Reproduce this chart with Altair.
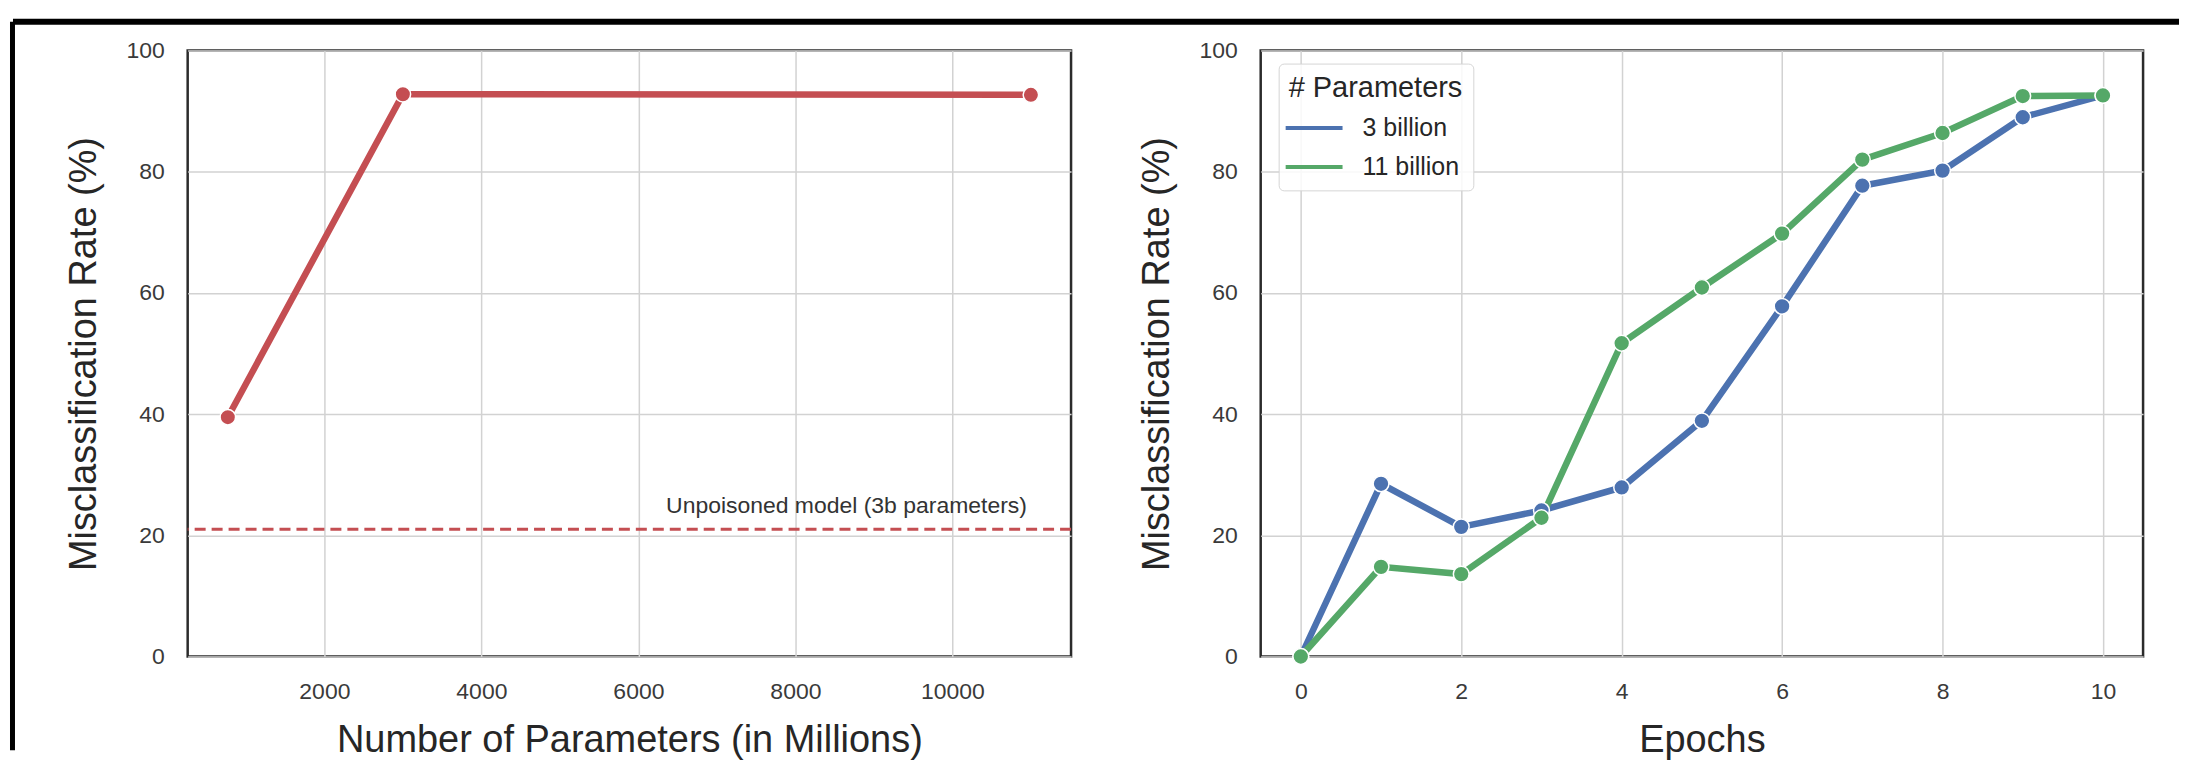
import altair as alt
import pandas as pd

# ---------------- data ----------------
# Left panel: model size vs misclassification
params_millions = [770, 3000, 11000]
left_rates = [39.5, 92.8, 92.7]
unpoisoned_rate = 21.0
unpoisoned_label = "Unpoisoned model (3b parameters)"

# Right panel: epochs vs misclassification
epochs = [0, 1, 2, 3, 4, 5, 6, 7, 8, 9, 10]
rate_3b = [0, 28.5, 21.4, 24.1, 27.9, 38.9, 57.8, 77.7, 80.2, 89.0, 92.6]
rate_11b = [0, 14.8, 13.6, 22.9, 51.7, 60.9, 69.8, 82.0, 86.4, 92.5, 92.6]
series_names = ["3 billion", "11 billion"]

x_ticks_left = [2000, 4000, 6000, 8000, 10000]
x_ticks_right = [0, 2, 4, 6, 8, 10]
y_ticks = [0, 20, 40, 60, 80, 100]

# ---------------- style ----------------
RED = "#C44E52"
COLORS = ["#4C72B0", "#55A868"]
FONT = "Liberation Sans"
W1, W2, H = 885, 884, 607

left_df = pd.DataFrame({"params": params_millions, "rate": left_rates})
ref_df = pd.DataFrame({"rate": [unpoisoned_rate], "params": [max(params_millions)],
                       "label": [unpoisoned_label]})

right_df = pd.DataFrame({
    "epoch": epochs + epochs,
    "rate": rate_3b + rate_11b,
    "series": [series_names[0]] * len(epochs) + [series_names[1]] * len(epochs),
})

y_enc = lambda tx: alt.Y(
    "rate:Q",
    scale=alt.Scale(domain=[0, 100], nice=False),
    axis=alt.Axis(values=y_ticks, title="Misclassification Rate (%)", titleX=tx,
                  titleY=H / 2, titleAngle=270, titleBaseline="middle",
                  titleAlign="center", labelPadding=23.5),
)

xl = alt.X(
    "params:Q",
    scale=alt.Scale(domain=[258.5, 11511.5], nice=False, zero=False),
    axis=alt.Axis(values=x_ticks_left, format="d", title="Number of Parameters (in Millions)",
                  titleX=W1 / 2, titleY=95, titleBaseline="alphabetic", titleAlign="center",
                  labelPadding=24),
)

base_l = alt.Chart(left_df)
line_l = base_l.mark_line(color=RED, strokeWidth=6.5).encode(x=xl, y=y_enc(-103))
pts_l = base_l.mark_circle(color=RED, size=240, opacity=1, stroke="white",
                           strokeWidth=1.5).encode(x="params:Q", y="rate:Q")
dash_l = alt.Chart(ref_df).mark_rule(color=RED, strokeDash=[11, 6], strokeWidth=3).encode(
    y="rate:Q")
text_l = alt.Chart(ref_df).mark_text(align="right", baseline="alphabetic", font=FONT,
                                     fontSize=23, color="#333333", dy=-16.5, dx=-4).encode(
    x="params:Q", y="rate:Q", text="label:N")

# decorative frame lines of the original figure
border_df = pd.DataFrame({"k": [0]})
top_line = alt.Chart(border_df).mark_rule(color="black", strokeWidth=6).encode(
    x=alt.value(-175), x2=alt.value(1995), y=alt.value(-29))
left_line = alt.Chart(border_df).mark_rule(color="black", strokeWidth=5).encode(
    x=alt.value(-175.5), y=alt.value(-29), y2=alt.value(701))

left = alt.layer(line_l, dash_l, text_l, pts_l, top_line, left_line).properties(
    width=W1, height=H)

xr = alt.X(
    "epoch:Q",
    scale=alt.Scale(domain=[-0.5, 10.5], nice=False, zero=False),
    axis=alt.Axis(values=x_ticks_right, format="d", title="Epochs", titleX=W2 / 2, titleY=95,
                  titleBaseline="alphabetic", titleAlign="center", labelPadding=24),
)

color_scale = alt.Scale(domain=series_names, range=COLORS)
base_r = alt.Chart(right_df)
line_r = base_r.mark_line(strokeWidth=6.5).encode(
    x=xr, y=y_enc(-103),
    color=alt.Color("series:N", scale=color_scale, sort=series_names,
                    legend=alt.Legend(
                        title="# Parameters", orient="none", legendX=18, legendY=13,
                        symbolType="M-2,0H2", symbolSize=812, symbolStrokeWidth=4,
                        symbolOffset=9, labelOffset=32, padding=10, rowPadding=9,
                        titlePadding=9, titleFontSize=29, labelFontSize=25,
                        titleFont=FONT, labelFont=FONT, titleFontWeight="normal",
                        titleColor="#262626", labelColor="#262626",
                        strokeColor="#d5d5d5", fillColor="rgba(255,255,255,0.85)",
                        cornerRadius=5)),
    detail="series:N",
)
pts_r = base_r.mark_circle(size=250, opacity=1, stroke="white", strokeWidth=1.5).encode(
    x="epoch:Q", y="rate:Q",
    fill=alt.Fill("series:N", scale=color_scale, legend=None),
)
right = alt.layer(line_r, pts_r).properties(width=W2, height=H)

chart = alt.hconcat(left, right, spacing=190, bounds="flush").resolve_legend(
    color="independent", fill="independent"
).properties(
    padding={"left": 0, "top": 8, "right": 0, "bottom": 0},
    background="white",
).configure_axis(
    labelFont=FONT, labelFontSize=23, labelColor="#3a3a3a",
    titleFont=FONT, titleFontSize=38, titleFontWeight="normal", titleColor="#262626",
    grid=True, gridColor="#d2d2d2", gridWidth=1.5,
    domain=False, ticks=False, tickSize=0,
).configure_view(stroke="#2b2b2b", strokeWidth=2.5)

chart.save("out.html", embed_options={"renderer": "svg", "actions": False})
